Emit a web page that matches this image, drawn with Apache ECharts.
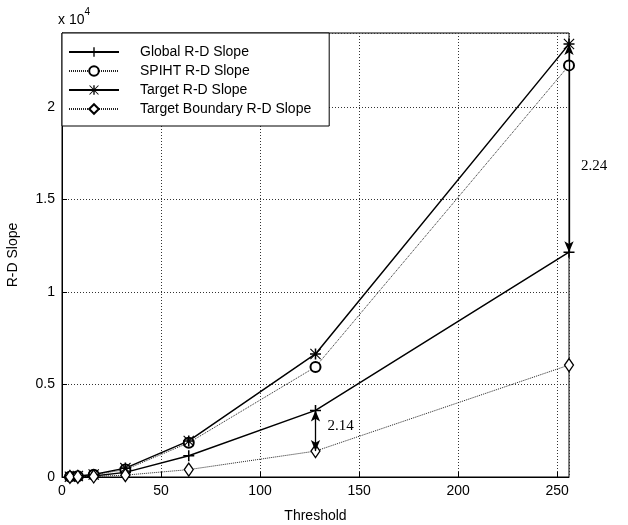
<!DOCTYPE html>
<html><head><meta charset="utf-8">
<script src="https://cdn.jsdelivr.net/npm/echarts@6/dist/echarts.min.js"></script>
<style>html,body{margin:0;padding:0;background:#fff}#c{width:628px;height:525px}</style>
</head><body><div id="c"></div>
<script>
const thresholds = [4, 8, 16, 32, 64, 128, 256];
const globalSlope = [10, 20, 60, 250, 1150, 3600, 12150];
const spihtSlope = [20, 40, 120, 400, 1850, 5950, 22250];
const targetSlope = [20, 50, 130, 480, 1950, 6650, 23400];
const boundarySlope = [5, 10, 30, 100, 400, 1400, 6050];
const seriesNames = ['Global R-D Slope', 'SPIHT R-D Slope', 'Target R-D Slope', 'Target Boundary R-D Slope'];
const ratioLabels = ['2.24', '2.14'];

const FONT = 'Liberation Sans, Arial, sans-serif';
const plusPath = 'path://M4.3,0h1.4v10h-1.4z M0,4.3h10v1.4h-10z';
const starPath = 'path://M4.3,0h1.4v10h-1.4z M0,4.3h10v1.4h-10z M0.7,0L10,9.3L9.3,10L0,0.7Z M9.3,0L10,0.7L0.7,10L0,9.3Z';
const pairs = v => thresholds.map((x, i) => [x, v[i]]);

const chart = echarts.init(document.getElementById('c'), null, {renderer: 'canvas'});
const option = {
  animation: false,
  backgroundColor: '#fff',
  grid: {left: 62, right: 59, top: 33, bottom: 48, containLabel: false, outerBoundsMode: 'none',
    show: true, borderColor: '#000', borderWidth: 1, backgroundColor: 'transparent'},
  legend: {
    orient: 'vertical', left: 62, top: 33, padding: [12, 18, 10, 6], itemGap: 5,
    itemWidth: 50, itemHeight: 12,
    backgroundColor: '#fff', borderColor: '#000', borderWidth: 1,
    textStyle: {fontFamily: FONT, fontSize: 14, color: '#000', padding: [0, 0, 0, 16]},
    data: seriesNames
  },
  xAxis: {
    type: 'value', min: 0, max: 256, interval: 50,
    name: 'Threshold', nameLocation: 'middle', nameGap: 32,
    nameTextStyle: {fontFamily: FONT, fontSize: 14, color: '#000'},
    axisLine: {lineStyle: {color: '#000'}},
    axisTick: {inside: true, length: 5, lineStyle: {color: '#000'}},
    axisLabel: {fontFamily: FONT, fontSize: 14, color: '#000', showMaxLabel: false, margin: 7},
    splitLine: {show: true, lineStyle: {color: '#333', type: [1, 2], width: 1}}
  },
  yAxis: {
    type: 'value', min: 0, max: 24000, interval: 5000,
    name: 'R-D Slope', nameLocation: 'middle', nameGap: 42,
    nameTextStyle: {fontFamily: FONT, fontSize: 14, color: '#000'},
    axisLine: {show: true, lineStyle: {color: '#000'}},
    axisTick: {show: true, inside: true, length: 5, lineStyle: {color: '#000'}},
    axisLabel: {fontFamily: FONT, fontSize: 14, color: '#000', showMaxLabel: false, margin: 7,
      formatter: v => String(v / 10000)},
    splitLine: {show: true, lineStyle: {color: '#333', type: [1, 2], width: 1}}
  },
  series: [
    {name: seriesNames[0], type: 'line', data: pairs(globalSlope), symbol: plusPath, symbolSize: 11,
      lineStyle: {color: '#000', width: 1.5}, itemStyle: {color: '#000'},
      markLine: {
        silent: true, symbol: ['arrow', 'arrow'], symbolSize: [7, 11], label: {show: false},
        lineStyle: {color: '#000', width: 1.3, type: 'solid'},
        data: [
          [{coord: [thresholds[6], targetSlope[6]]}, {coord: [thresholds[6], globalSlope[6]]}],
          [{coord: [thresholds[5], globalSlope[5]]}, {coord: [thresholds[5], boundarySlope[5]]}]
        ]
      }},
    {name: seriesNames[1], type: 'line', data: pairs(spihtSlope), symbol: 'emptyCircle', symbolSize: 10,
      lineStyle: {color: '#222', width: 1, type: [1, 1]}, itemStyle: {color: '#000', borderColor: '#000', borderWidth: 1.3}},
    {name: seriesNames[2], type: 'line', data: pairs(targetSlope), symbol: starPath, symbolSize: 11,
      lineStyle: {color: '#000', width: 1.5}, itemStyle: {color: '#000'}},
    {name: seriesNames[3], type: 'line', data: pairs(boundarySlope), symbol: 'diamond', symbolSize: [9, 13],
      lineStyle: {color: '#222', width: 1, type: [1, 1]}, itemStyle: {color: '#fff', borderColor: '#000', borderWidth: 1.3}}
  ]
};
chart.setOption(option);

const p1 = chart.convertToPixel({gridIndex: 0}, [thresholds[6], 16800]);
const p2 = chart.convertToPixel({gridIndex: 0}, [thresholds[5], 2750]);
chart.setOption({
  graphic: [
    {type: 'text', left: 58, top: 7, style: {
      text: '{b|x 10}{s|4}', rich: {b: {fontFamily: FONT, fontSize: 14, fill: '#000', padding: [6, 0, 0, 0]}, s: {fontFamily: FONT, fontSize: 10, fill: '#000', verticalAlign: 'top'}}}},
    {type: 'text', x: p1[0] + 12, y: p1[1], style: {text: ratioLabels[0], fontFamily: 'Liberation Serif, Times New Roman, serif', fontSize: 15, fill: '#000', verticalAlign: 'middle'}},
    {type: 'text', x: p2[0] + 12, y: p2[1], style: {text: ratioLabels[1], fontFamily: 'Liberation Serif, Times New Roman, serif', fontSize: 15, fill: '#000', verticalAlign: 'middle'}}
  ]
});
</script>
</body></html>
